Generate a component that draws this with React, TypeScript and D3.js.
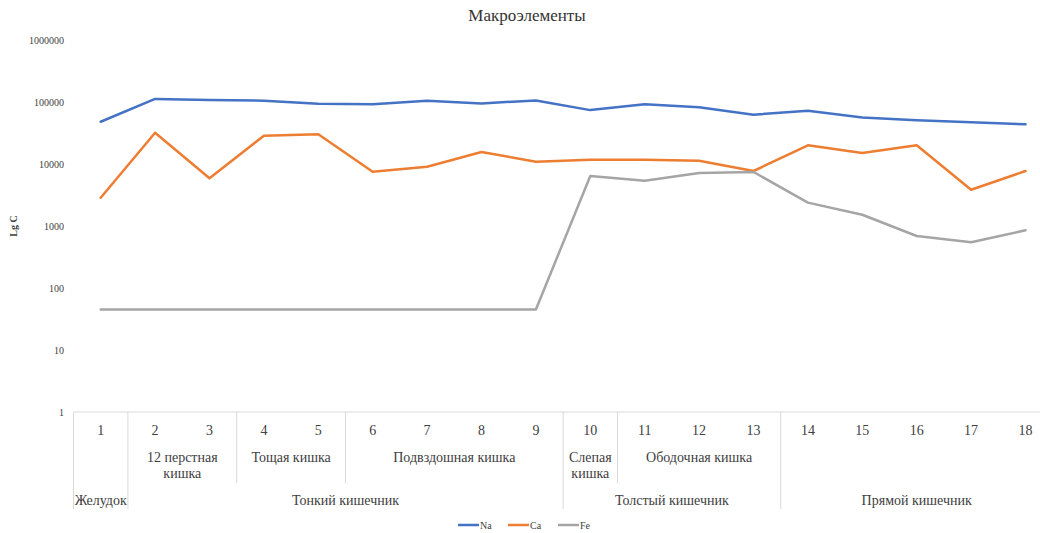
import * as d3 from "d3";
import React from "react";

// categories (sample numbers) and the two grouping levels below them
const categories: string[] = ["1", "2", "3", "4", "5", "6", "7", "8", "9", "10", "11", "12", "13", "14", "15", "16", "17", "18"];

// [first category index, last category index, label lines]
const sectionGroups: [number, number, string[]][] = [
    [1, 2, ["12 перстная", "кишка"]],
    [3, 4, ["Тощая кишка"]],
    [5, 8, ["Подвздошная кишка"]],
    [9, 9, ["Слепая", "кишка"]],
    [10, 12, ["Ободочная кишка"]],
];
const organGroups: [number, number, string][] = [
    [0, 0, "Желудок"],
    [1, 8, "Тонкий кишечник"],
    [9, 12, "Толстый кишечник"],
    [13, 17, "Прямой кишечник"],
];

const naValues: number[] = [48000, 112000, 108000, 105000, 94000, 92000, 105000, 95000, 106000, 74000, 92000, 82000, 62500, 72000, 56000, 51000, 47000, 43600];
const caValues: number[] = [2860, 32000, 5880, 28600, 30100, 7520, 9050, 15600, 10900, 11700, 11700, 11300, 7710, 20000, 15000, 20000, 3850, 7700];
const feValues: number[] = [45, 45, 45, 45, 45, 45, 45, 45, 45, 6400, 5380, 7160, 7430, 2380, 1520, 690, 546, 853];

const yTicks: number[] = [1, 10, 100, 1000, 10000, 100000, 1000000];

const seriesList = [
    { name: "Na", values: naValues, color: "#4472C4" },
    { name: "Ca", values: caValues, color: "#ED7D31" },
    { name: "Fe", values: feValues, color: "#A5A5A5" },
];

const W = 1040;
const H = 533;
const FONT = "'Liberation Serif', 'Times New Roman', serif";

export default function App() {
    const plotLeft = 73.5;
    const band = 54.4;
    const xScale = d3
        .scaleBand<string>()
        .domain(categories)
        .range([plotLeft, plotLeft + band * categories.length])
        .padding(0);
    const yScale = d3.scaleLog().domain([1, 1000000]).range([412, 40]);

    const cx = (i: number) => (xScale(categories[i]) as number) + xScale.bandwidth() / 2;
    const edgeL = (i: number) => xScale(categories[i]) as number;
    const edgeR = (i: number) => (xScale(categories[i]) as number) + xScale.bandwidth();

    const line = d3
        .line<number>()
        .x((d, i) => cx(i))
        .y(d => yScale(d));

    const axisY = yScale(1);
    const gridColor = "#D9D9D9";

    // full-height dividers at organ boundaries, short ones at section boundaries
    const organEdges = new Set<number>();
    organGroups.forEach(g => {
        organEdges.add(edgeL(g[0]));
    });
    const sectionEdges: number[] = [];
    sectionGroups.forEach(g => {
        [edgeL(g[0]), edgeR(g[1])].forEach(x => {
            if (!organEdges.has(x) && sectionEdges.indexOf(x) < 0) sectionEdges.push(x);
        });
    });

    const legendStart = 458;
    const legendStep = 50;

    return (
        <div style={{ position: "absolute", left: 0, top: 0 }}>
            <svg width={W} height={H} style={{ display: "block", background: "#fff" }} fontFamily={FONT}>
                <text x={527} y={21} textAnchor="middle" fontSize={17} fill="#333">
                    Макроэлементы
                </text>

                {/* y axis */}
                {yTicks.map(t => (
                    <text key={t} x={64} y={yScale(t)} dy="0.35em" textAnchor="end" fontSize={10} fill="#404040">
                        {t}
                    </text>
                ))}
                <text
                    transform={`translate(17,${(yScale(1) + yScale(1000000)) / 2}) rotate(-90)`}
                    textAnchor="middle"
                    fontSize={10}
                    fontWeight="bold"
                    fill="#404040"
                >
                    Lg C
                </text>

                {/* category axis */}
                <line x1={plotLeft} x2={W} y1={axisY} y2={axisY} stroke={gridColor} strokeWidth={1} />
                {Array.from(organEdges).map(x => (
                    <line key={"o" + x} x1={x} x2={x} y1={axisY} y2={509} stroke={gridColor} strokeWidth={1} />
                ))}
                {sectionEdges.map(x => (
                    <line key={"s" + x} x1={x} x2={x} y1={axisY} y2={483} stroke={gridColor} strokeWidth={1} />
                ))}
                {categories.map((c, i) => (
                    <text key={c} x={cx(i)} y={435} textAnchor="middle" fontSize={14} fill="#404040">
                        {c}
                    </text>
                ))}
                {sectionGroups.map((g, k) => (
                    <text key={"sg" + k} x={(edgeL(g[0]) + edgeR(g[1])) / 2} y={462} textAnchor="middle" fontSize={14} fill="#404040">
                        {g[2].map((s, j) => (
                            <tspan key={j} x={(edgeL(g[0]) + edgeR(g[1])) / 2} dy={j === 0 ? 0 : 16}>
                                {s}
                            </tspan>
                        ))}
                    </text>
                ))}
                {organGroups.map((g, k) => (
                    <text key={"og" + k} x={(edgeL(g[0]) + edgeR(g[1])) / 2} y={505} textAnchor="middle" fontSize={14} fill="#404040">
                        {g[2]}
                    </text>
                ))}

                {/* series */}
                {seriesList.map(s => (
                    <path
                        key={s.name}
                        d={line(s.values) as string}
                        fill="none"
                        stroke={s.color}
                        strokeWidth={2.5}
                        strokeLinejoin="round"
                        strokeLinecap="round"
                    />
                ))}

                {/* legend */}
                {seriesList.map((s, i) => (
                    <g key={"lg" + s.name} transform={`translate(${legendStart + i * legendStep},525)`}>
                        <line x1={0} x2={21} y1={0} y2={0} stroke={s.color} strokeWidth={2.5} />
                        <text x={22} y={0} dy="0.35em" fontSize={10} fill="#404040">
                            {s.name}
                        </text>
                    </g>
                ))}
            </svg>
        </div>
    );
}
